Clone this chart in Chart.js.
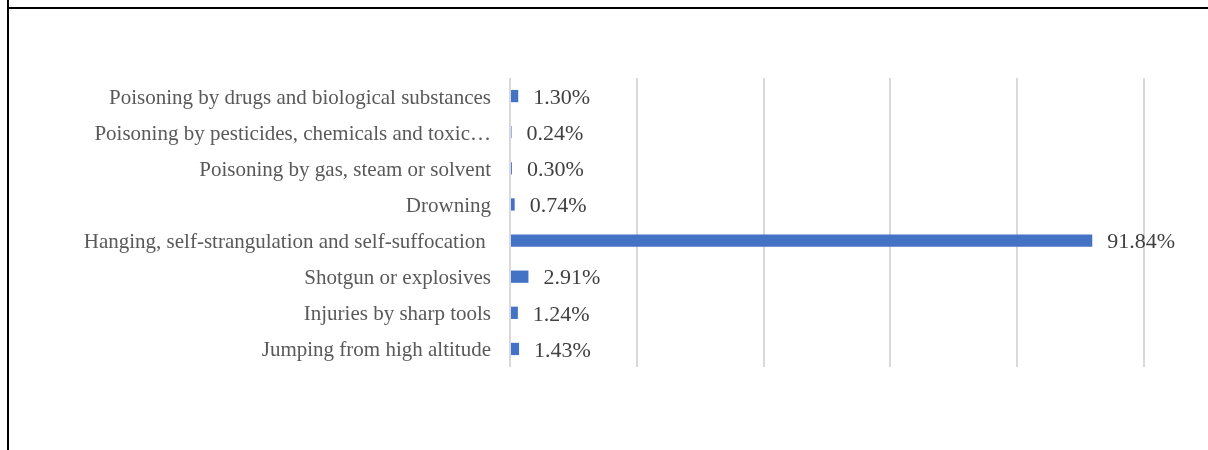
<!DOCTYPE html>
<html>
<head>
<meta charset="utf-8">
<script src="https://cdn.jsdelivr.net/npm/chart.js@4/dist/chart.umd.min.js"></script>
<style>
  html, body { margin: 0; padding: 0; background: #fff; }
  .wrap { position: relative; width: 1208px; height: 450px; overflow: hidden; }
  .wrap canvas { position: absolute; left: 0; top: 0; }
  .edge-left { position: absolute; left: 7px; top: 0; width: 2px; height: 450px; background: #000; }
  .edge-top { position: absolute; left: 7px; top: 7px; width: 1201px; height: 2px; background: #000; }
</style>
</head>
<body>
<div class="wrap">
  <canvas class="chart" width="1208" height="450"></canvas>
  <div class="edge-left"></div>
  <div class="edge-top"></div>
</div>
<script>
// suicide methods, top to bottom as in the figure
const methods = [
  "Poisoning by drugs and biological substances",
  "Poisoning by pesticides, chemicals and toxic\u2026",
  "Poisoning by gas, steam or solvent",
  "Drowning",
  "Hanging, self-strangulation and self-suffocation ",
  "Shotgun or explosives",
  "Injuries by sharp tools",
  "Jumping from high altitude",
];
const shares = [1.30, 0.24, 0.30, 0.74, 91.84, 2.91, 1.24, 1.43];
const axisMin = 0;
const axisMax = 100;
const axisStep = 20;

// draws "x.xx%" right of every bar
const valueLabels = {
  id: "valueLabels",
  afterDatasetsDraw(chart) {
    const ctx = chart.ctx;
    const meta = chart.getDatasetMeta(0);
    ctx.save();
    ctx.font = '22px "Liberation Serif", "Times New Roman", serif';
    ctx.fillStyle = "#404040";
    ctx.textAlign = "left";
    ctx.textBaseline = "middle";
    meta.data.forEach((bar, idx) => {
      ctx.fillText(shares[idx].toFixed(2) + "%", bar.x + 15, bar.y + 2);
    });
    ctx.restore();
  },
};

const ctx = document.querySelector(".chart");
const myChart = new Chart(ctx, {
  type: "bar",
  data: {
    labels: methods,
    datasets: [
      {
        data: shares,
        backgroundColor: "#4472C4",
        barPercentage: 0.68,
        categoryPercentage: 0.5,
      },
    ],
  },
  options: {
    indexAxis: "y",
    responsive: false,
    animation: false,
    layout: { padding: { top: 78, bottom: 83, left: 0, right: 64 } },
    plugins: {
      legend: { display: false },
      tooltip: { enabled: false },
    },
    scales: {
      x: {
        min: axisMin,
        max: axisMax,
        ticks: { display: false, stepSize: axisStep },
        grid: { color: "#d9d9d9", lineWidth: 2, drawTicks: false },
        border: { display: false },
      },
      y: {
        grid: { display: false, drawTicks: false },
        border: { display: false },
        ticks: {
          color: "#595959",
          padding: 19,
          labelOffset: 2,
          font: { family: '"Liberation Serif", "Times New Roman", serif', size: 21 },
        },
        afterFit(scale) {
          scale.width = 510;
        },
      },
    },
  },
  plugins: [valueLabels],
});
</script>
</body>
</html>
